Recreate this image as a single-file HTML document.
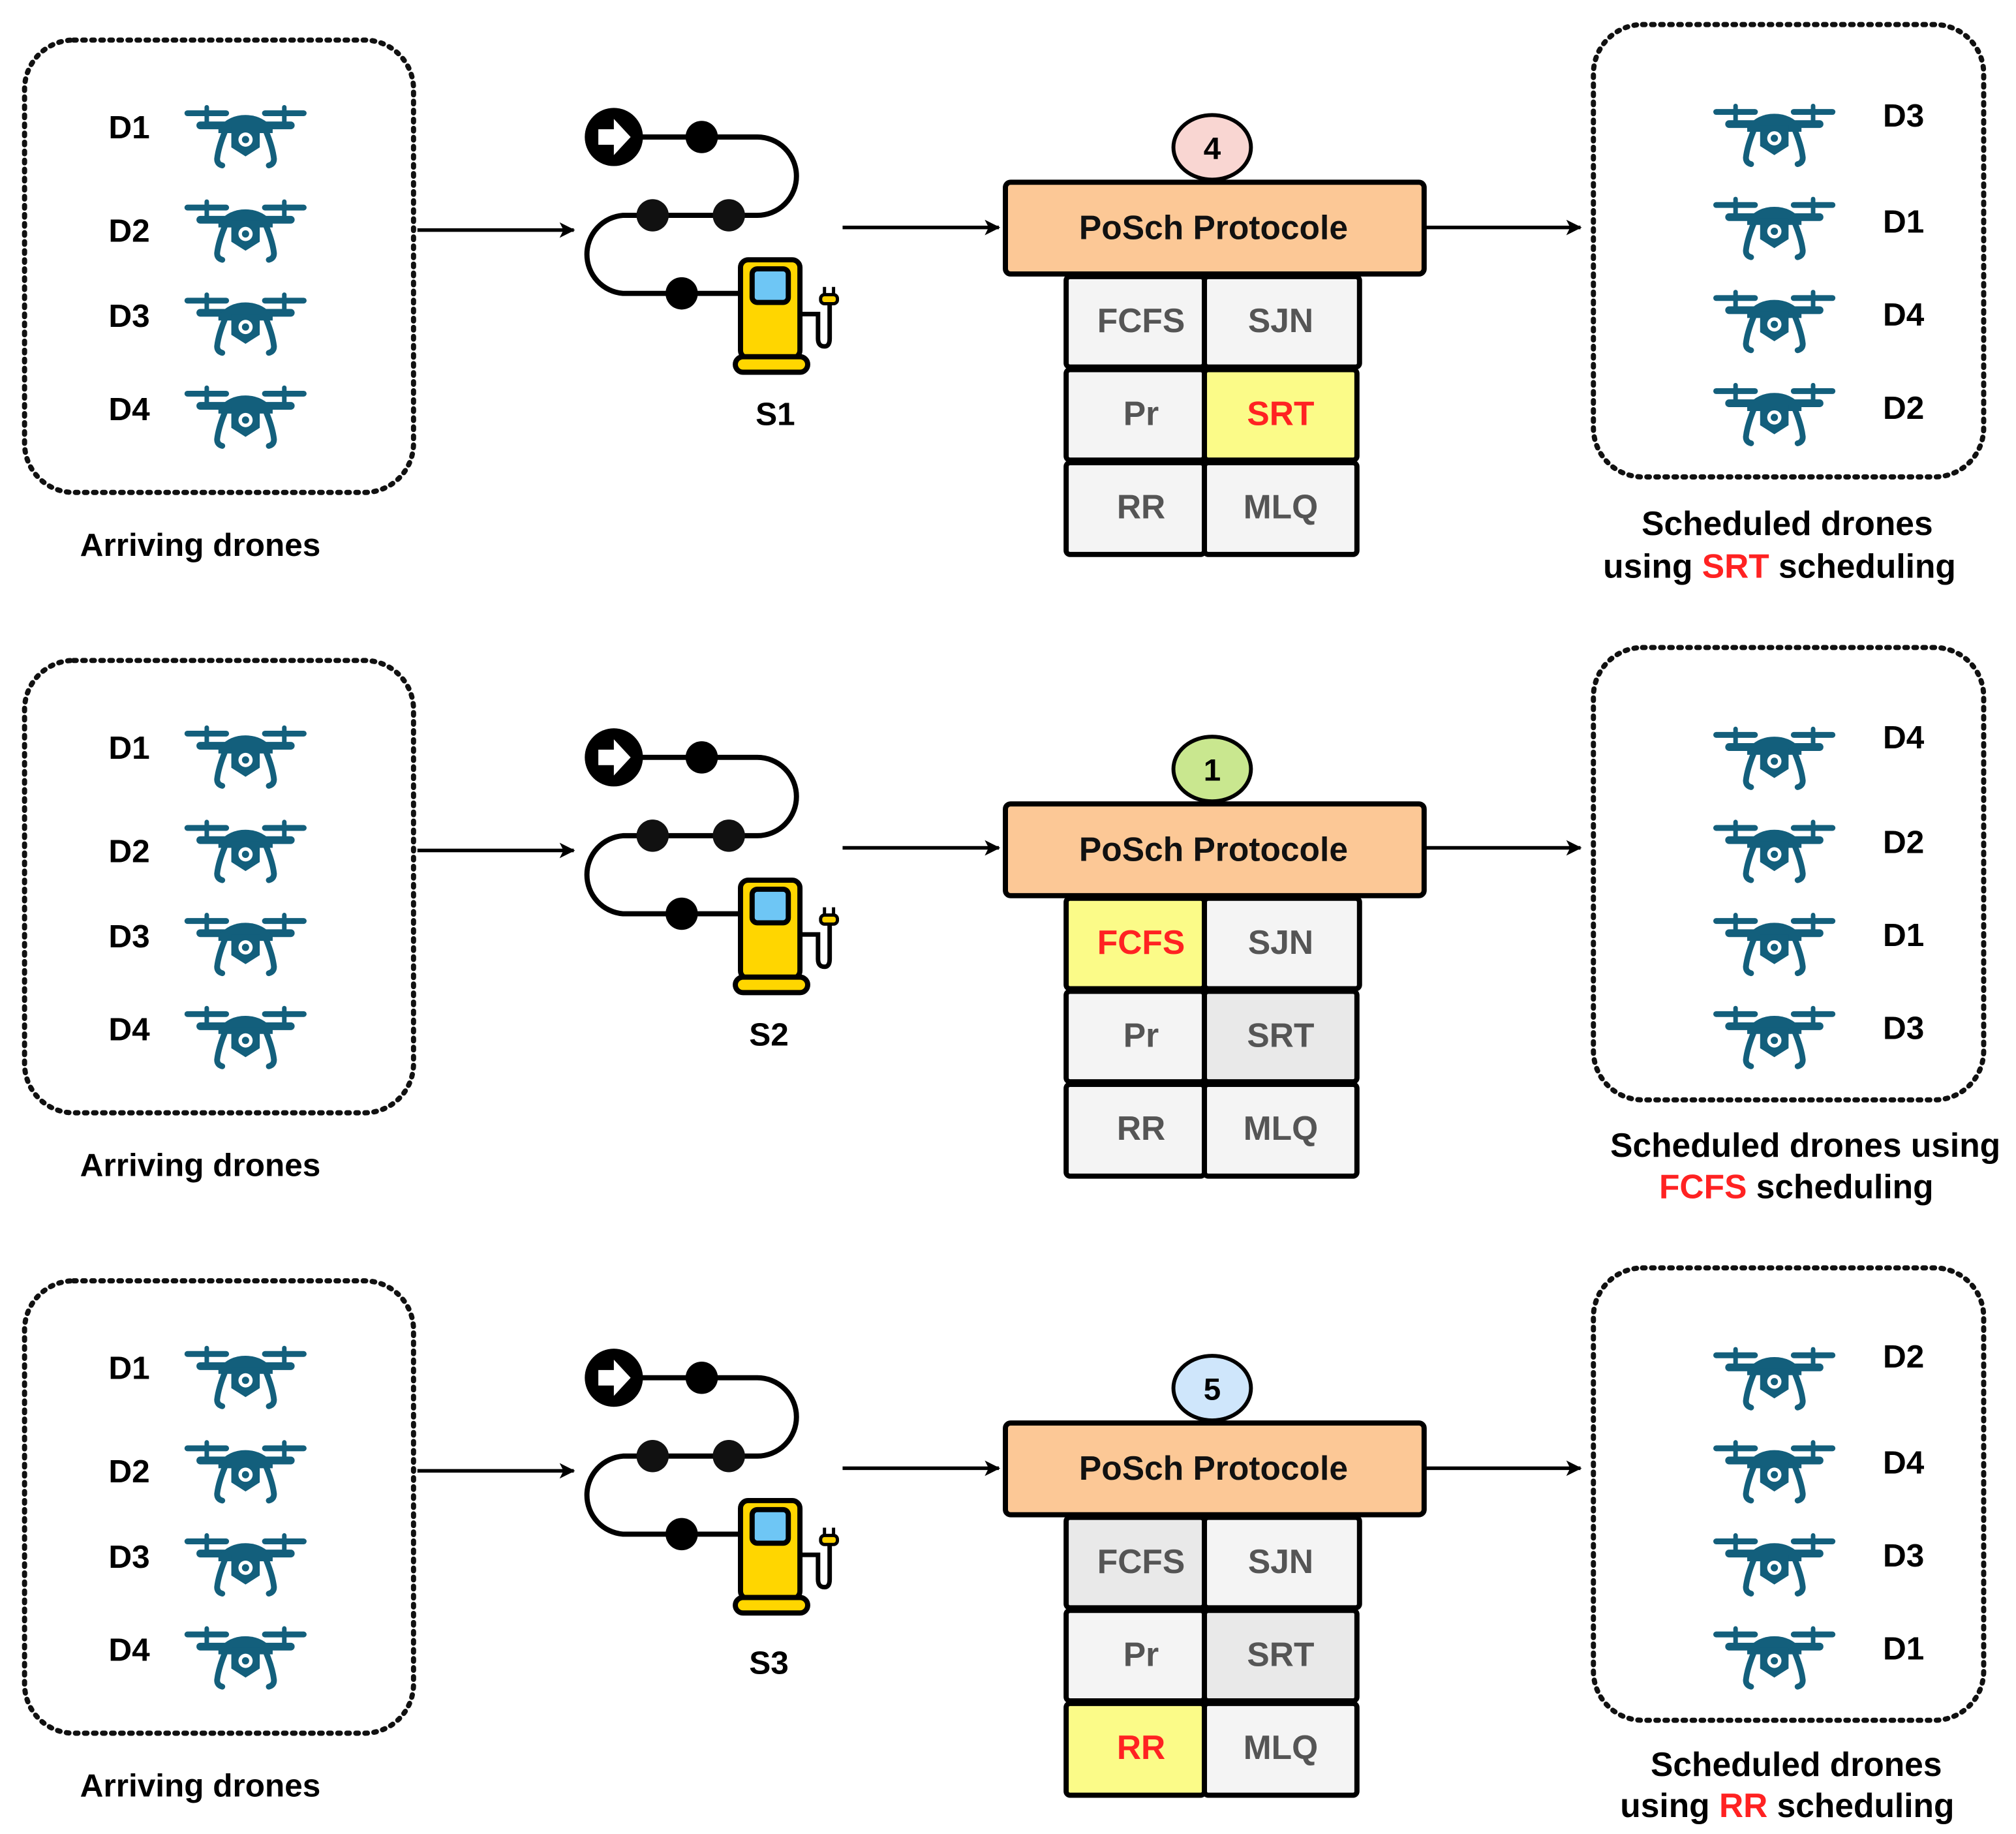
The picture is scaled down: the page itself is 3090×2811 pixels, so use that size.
<!DOCTYPE html>
<html><head><meta charset="utf-8"><style>
html,body{margin:0;padding:0;background:#fff}
svg{display:block}
text{font-family:"Liberation Sans",Arial,sans-serif;font-weight:bold}
</style></head><body>
<svg width="3090" height="2811" viewBox="0 0 1560 1419" preserveAspectRatio="none" xmlns="http://www.w3.org/2000/svg">
<defs>
<marker id="ar" markerWidth="12" markerHeight="12" refX="11" refY="6" orient="auto" markerUnits="userSpaceOnUse">
<path d="M0,0 L12,6 L0,12 L3,6 Z" fill="#000"/>
</marker>
<g id="drone">
 <g fill="none" stroke="#135f7c" stroke-linecap="round">
  <line x1="4" y1="10.6" x2="34" y2="10.6" stroke-width="4.5"/>
  <line x1="64" y1="10.6" x2="94" y2="10.6" stroke-width="4.5"/>
  <line x1="19" y1="6" x2="19" y2="18" stroke-width="3.5"/>
  <line x1="79" y1="6" x2="79" y2="18" stroke-width="3.5"/>
  <line x1="14" y1="20" x2="84" y2="20" stroke-width="6"/>
  <path d="M33 25 Q28 37 27 46 Q27 50 31 51" stroke-width="4.5"/>
  <path d="M65 25 Q70 37 71 46 Q71 50 67 51" stroke-width="4.5"/>
 </g>
 <path d="M28 22 Q36 12 49 12 Q62 12 70 22 L70 26 L28 26 Z" fill="#135f7c"/>
 <path d="M38 21 L60 21 L60 37 L49 44 L38 37 Z" fill="#135f7c"/>
 <circle cx="49" cy="31" r="5.5" fill="#fff"/>
 <circle cx="49" cy="31" r="2.8" fill="#135f7c"/>
</g>
<g id="station">
 <path d="M475 106 H586 A30 30 0 0 1 586 166.6 H482 A30.3 30.3 0 0 0 482 227 H575" fill="none" stroke="#000" stroke-width="4"/>
 <circle cx="475" cy="106" r="22.5" fill="#000"/>
 <path d="M463 100 H475 V92 L488 106 L475 120 V112 H463 Z" fill="#fff"/>
 <circle cx="543" cy="106" r="12.5" fill="#000"/>
 <circle cx="505" cy="166.6" r="12.5" fill="#111"/>
 <circle cx="564" cy="166.6" r="12.5" fill="#111"/>
 <circle cx="527.5" cy="227" r="12.5" fill="#000"/>
 <path d="M619 243 H633 V262 Q633 268 638 268 Q642 268 642 262 V234" fill="none" stroke="#000" stroke-width="3.5"/>
 <rect x="635" y="228" width="13" height="7" rx="3" fill="#ffd200" stroke="#000" stroke-width="2.5"/>
 <line x1="638" y1="222" x2="638" y2="228" stroke="#000" stroke-width="2.5"/>
 <line x1="645" y1="222" x2="645" y2="228" stroke="#000" stroke-width="2.5"/>
 <rect x="573" y="201" width="46" height="76" rx="6" fill="#ffd600" stroke="#000" stroke-width="4"/>
 <rect x="582" y="208" width="28" height="26" rx="4" fill="#6ec6f5" stroke="#000" stroke-width="4"/>
 <rect x="569" y="276" width="56" height="12" rx="6" fill="#ffd600" stroke="#000" stroke-width="4"/>
</g>
</defs>

<g id="p1">
<rect x="19" y="31" width="301" height="350" rx="38" fill="none" stroke="#111" stroke-width="4" stroke-dasharray="2 5" stroke-linecap="round"/>
<text x="100" y="107" font-size="25" text-anchor="middle">D1</text>
<text x="100" y="187" font-size="25" text-anchor="middle">D2</text>
<text x="100" y="253" font-size="25" text-anchor="middle">D3</text>
<text x="100" y="325" font-size="25" text-anchor="middle">D4</text>
<use href="#drone" x="141" y="77"/>
<use href="#drone" x="141" y="150"/>
<use href="#drone" x="141" y="222"/>
<use href="#drone" x="141" y="294"/>
<text x="155" y="430" font-size="25" text-anchor="middle">Arriving drones</text>
<line x1="323" y1="178" x2="444" y2="178" stroke="#000" stroke-width="2.8" marker-end="url(#ar)"/>
<use href="#station"/>
<line x1="652" y1="176" x2="773" y2="176" stroke="#000" stroke-width="2.8" marker-end="url(#ar)"/>
<line x1="1103" y1="176" x2="1223" y2="176" stroke="#000" stroke-width="2.8" marker-end="url(#ar)"/>
</g>
<use href="#p1" y="480"/>
<use href="#p1" y="960"/>

<text x="600" y="329" font-size="25" text-anchor="middle">S1</text>
<text x="595" y="809" font-size="25" text-anchor="middle">S2</text>
<text x="595" y="1295" font-size="25" text-anchor="middle">S3</text>

<g font-size="26">
<ellipse cx="938" cy="114" rx="30" ry="25" fill="#f9d6d2" stroke="#000" stroke-width="3"/>
<text x="938" y="123" font-size="24" text-anchor="middle">4</text>
<rect x="778" y="141" width="324" height="71" rx="4" fill="#fcc896" stroke="#000" stroke-width="4"/>
<text x="939" y="185" text-anchor="middle" fill="#111">PoSch Protocole</text>
<rect x="825" y="214" width="107" height="70" rx="3" fill="#f4f4f4" stroke="#000" stroke-width="4"/>
<rect x="932" y="214" width="120" height="70" rx="3" fill="#f4f4f4" stroke="#000" stroke-width="4"/>
<rect x="825" y="286" width="107" height="70" rx="3" fill="#f4f4f4" stroke="#000" stroke-width="4"/>
<rect x="932" y="286" width="118" height="70" rx="3" fill="#fbfb88" stroke="#000" stroke-width="4"/>
<rect x="825" y="358" width="107" height="71" rx="3" fill="#f4f4f4" stroke="#000" stroke-width="4"/>
<rect x="932" y="358" width="118" height="71" rx="3" fill="#f4f4f4" stroke="#000" stroke-width="4"/>
<text x="883" y="257" text-anchor="middle" fill="#555">FCFS</text>
<text x="991" y="257" text-anchor="middle" fill="#555">SJN</text>
<text x="883" y="329" text-anchor="middle" fill="#555">Pr</text>
<text x="991" y="329" text-anchor="middle" fill="#f22">SRT</text>
<text x="883" y="401" text-anchor="middle" fill="#555">RR</text>
<text x="991" y="401" text-anchor="middle" fill="#555">MLQ</text>

<ellipse cx="938" cy="595" rx="30" ry="25" fill="#c9e78f" stroke="#000" stroke-width="3"/>
<text x="938" y="604" font-size="24" text-anchor="middle">1</text>
<rect x="778" y="622" width="324" height="71" rx="4" fill="#fcc896" stroke="#000" stroke-width="4"/>
<text x="939" y="666" text-anchor="middle" fill="#111">PoSch Protocole</text>
<rect x="825" y="695" width="107" height="70" rx="3" fill="#fbfb88" stroke="#000" stroke-width="4"/>
<rect x="932" y="695" width="120" height="70" rx="3" fill="#f4f4f4" stroke="#000" stroke-width="4"/>
<rect x="825" y="767" width="107" height="70" rx="3" fill="#f4f4f4" stroke="#000" stroke-width="4"/>
<rect x="932" y="767" width="118" height="70" rx="3" fill="#e9e9e9" stroke="#000" stroke-width="4"/>
<rect x="825" y="839" width="107" height="71" rx="3" fill="#f4f4f4" stroke="#000" stroke-width="4"/>
<rect x="932" y="839" width="118" height="71" rx="3" fill="#f4f4f4" stroke="#000" stroke-width="4"/>
<text x="883" y="738" text-anchor="middle" fill="#f22">FCFS</text>
<text x="991" y="738" text-anchor="middle" fill="#555">SJN</text>
<text x="883" y="810" text-anchor="middle" fill="#555">Pr</text>
<text x="991" y="810" text-anchor="middle" fill="#555">SRT</text>
<text x="883" y="882" text-anchor="middle" fill="#555">RR</text>
<text x="991" y="882" text-anchor="middle" fill="#555">MLQ</text>

<ellipse cx="938" cy="1074" rx="30" ry="25" fill="#cfe6fb" stroke="#000" stroke-width="3"/>
<text x="938" y="1083" font-size="24" text-anchor="middle">5</text>
<rect x="778" y="1101" width="324" height="71" rx="4" fill="#fcc896" stroke="#000" stroke-width="4"/>
<text x="939" y="1145" text-anchor="middle" fill="#111">PoSch Protocole</text>
<rect x="825" y="1174" width="107" height="70" rx="3" fill="#e9e9e9" stroke="#000" stroke-width="4"/>
<rect x="932" y="1174" width="120" height="70" rx="3" fill="#f4f4f4" stroke="#000" stroke-width="4"/>
<rect x="825" y="1246" width="107" height="70" rx="3" fill="#f4f4f4" stroke="#000" stroke-width="4"/>
<rect x="932" y="1246" width="118" height="70" rx="3" fill="#e9e9e9" stroke="#000" stroke-width="4"/>
<rect x="825" y="1318" width="107" height="71" rx="3" fill="#fbfb88" stroke="#000" stroke-width="4"/>
<rect x="932" y="1318" width="118" height="71" rx="3" fill="#f4f4f4" stroke="#000" stroke-width="4"/>
<text x="883" y="1217" text-anchor="middle" fill="#555">FCFS</text>
<text x="991" y="1217" text-anchor="middle" fill="#555">SJN</text>
<text x="883" y="1289" text-anchor="middle" fill="#555">Pr</text>
<text x="991" y="1289" text-anchor="middle" fill="#555">SRT</text>
<text x="883" y="1361" text-anchor="middle" fill="#f22">RR</text>
<text x="991" y="1361" text-anchor="middle" fill="#555">MLQ</text>
</g>

<g id="r1">
<rect x="1233" y="19" width="302" height="350" rx="38" fill="none" stroke="#111" stroke-width="4" stroke-dasharray="2 5" stroke-linecap="round"/>
<use href="#drone" x="1324" y="76"/>
<use href="#drone" x="1324" y="148"/>
<use href="#drone" x="1324" y="220"/>
<use href="#drone" x="1324" y="292"/>
</g>
<use href="#r1" y="482"/>
<use href="#r1" y="962"/>
<g font-size="25" text-anchor="middle">
<text x="1473" y="98">D3</text><text x="1473" y="180">D1</text><text x="1473" y="252">D4</text><text x="1473" y="324">D2</text>
<text x="1473" y="579">D4</text><text x="1473" y="660">D2</text><text x="1473" y="732">D1</text><text x="1473" y="804">D3</text>
<text x="1473" y="1058">D2</text><text x="1473" y="1140">D4</text><text x="1473" y="1212">D3</text><text x="1473" y="1284">D1</text>
</g>
<g font-size="26" text-anchor="middle">
<text x="1383" y="414">Scheduled drones</text>
<text x="1377" y="447">using <tspan fill="#f22">SRT</tspan> scheduling</text>
<text x="1397" y="895">Scheduled drones using</text>
<text x="1390" y="927"><tspan fill="#f22">FCFS</tspan> scheduling</text>
<text x="1390" y="1374">Scheduled drones</text>
<text x="1383" y="1406">using <tspan fill="#f22">RR</tspan> scheduling</text>
</g>
</svg>
</body></html>
